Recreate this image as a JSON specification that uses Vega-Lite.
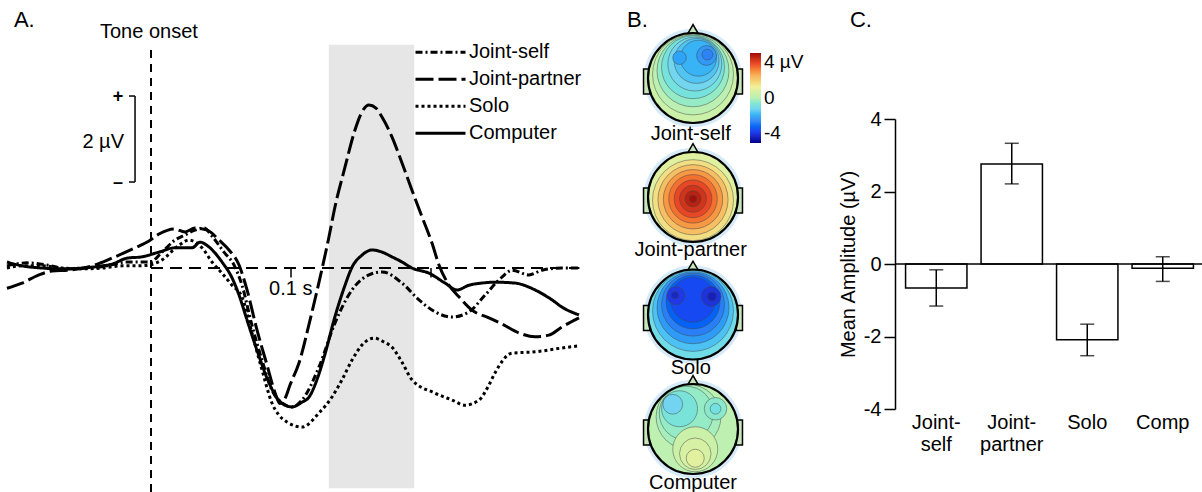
{
  "$schema": "https://vega.github.io/schema/vega-lite/v6.json",
  "padding": 0,
  "background": "white",
  "bounds": "flush",
  "spacing": 40,
  "config": {
    "font": "Liberation Sans",
    "view": {"stroke": null},
    "text": {"color": "black", "fontSize": 20},
    "axis": {"labelColor": "black", "titleColor": "black", "domainColor": "black", "tickColor": "black", "grid": false, "labelFont": "Liberation Sans", "titleFont": "Liberation Sans"},
    "legend": {"labelColor": "black", "labelFont": "Liberation Sans"}
  },
  "datasets": {
    "erp": [
      {"c":"Joint-partner","t":-102.9,"v":-0.47},{"c":"Joint-partner","t":-92.1,"v":-0.35},{"c":"Joint-partner","t":-80,"v":-0.16},{"c":"Joint-partner","t":-70.7,"v":-0.07},{"c":"Joint-partner","t":-58.6,"v":-0.05},{"c":"Joint-partner","t":-42.1,"v":0.05},{"c":"Joint-partner","t":-27.9,"v":0.23},{"c":"Joint-partner","t":-11.4,"v":0.47},{"c":"Joint-partner","t":-1.4,"v":0.63},{"c":"Joint-partner","t":5.7,"v":0.79},{"c":"Joint-partner","t":16.4,"v":0.91},{"c":"Joint-partner","t":24.3,"v":0.84},{"c":"Joint-partner","t":31.4,"v":0.93},{"c":"Joint-partner","t":36.4,"v":0.91},{"c":"Joint-partner","t":41.4,"v":0.86},{"c":"Joint-partner","t":48.6,"v":0.65},{"c":"Joint-partner","t":55.7,"v":0.42},{"c":"Joint-partner","t":62.9,"v":0.07},{"c":"Joint-partner","t":68.6,"v":-0.51},{"c":"Joint-partner","t":75.7,"v":-1.44},{"c":"Joint-partner","t":82.9,"v":-2.26},{"c":"Joint-partner","t":88.6,"v":-2.9},{"c":"Joint-partner","t":92,"v":-3.15},{"c":"Joint-partner","t":95.5,"v":-3.05},{"c":"Joint-partner","t":99.3,"v":-2.72},{"c":"Joint-partner","t":105.7,"v":-2.21},{"c":"Joint-partner","t":113.6,"v":-1.21},{"c":"Joint-partner","t":120.7,"v":-0.23},{"c":"Joint-partner","t":127.1,"v":0.72},{"c":"Joint-partner","t":131.4,"v":1.42},{"c":"Joint-partner","t":138.6,"v":2.35},{"c":"Joint-partner","t":145.7,"v":3.21},{"c":"Joint-partner","t":150.7,"v":3.63},{"c":"Joint-partner","t":155.7,"v":3.79},{"c":"Joint-partner","t":160.7,"v":3.72},{"c":"Joint-partner","t":165,"v":3.51},{"c":"Joint-partner","t":172.1,"v":3.05},{"c":"Joint-partner","t":179.3,"v":2.44},{"c":"Joint-partner","t":186.4,"v":1.81},{"c":"Joint-partner","t":193.6,"v":1.19},{"c":"Joint-partner","t":200.7,"v":0.58},{"c":"Joint-partner","t":205.7,"v":0.07},{"c":"Joint-partner","t":212.9,"v":-0.4},{"c":"Joint-partner","t":220,"v":-0.67},{"c":"Joint-partner","t":229.3,"v":-0.98},{"c":"Joint-partner","t":241.4,"v":-1.16},{"c":"Joint-partner","t":250.7,"v":-1.3},{"c":"Joint-partner","t":262.9,"v":-1.51},{"c":"Joint-partner","t":274.3,"v":-1.6},{"c":"Joint-partner","t":284.3,"v":-1.56},{"c":"Joint-partner","t":293.6,"v":-1.37},{"c":"Joint-partner","t":305.7,"v":-1.16},
      {"c":"Joint-self","t":-102.9,"v":0.05},{"c":"Joint-self","t":-88.6,"v":0.12},{"c":"Joint-self","t":-74.3,"v":0.07},{"c":"Joint-self","t":-60,"v":-0.02},{"c":"Joint-self","t":-45.7,"v":0},{"c":"Joint-self","t":-31.4,"v":0.05},{"c":"Joint-self","t":-17.1,"v":0.14},{"c":"Joint-self","t":-6.4,"v":0.14},{"c":"Joint-self","t":-0.7,"v":0.14},{"c":"Joint-self","t":7.9,"v":0.37},{"c":"Joint-self","t":17.1,"v":0.65},{"c":"Joint-self","t":24.3,"v":0.77},{"c":"Joint-self","t":31.4,"v":0.88},{"c":"Joint-self","t":37.9,"v":0.93},{"c":"Joint-self","t":43.6,"v":0.74},{"c":"Joint-self","t":52.1,"v":0.37},{"c":"Joint-self","t":59.3,"v":0.07},{"c":"Joint-self","t":65,"v":-0.4},{"c":"Joint-self","t":72.1,"v":-1.33},{"c":"Joint-self","t":79.3,"v":-2.14},{"c":"Joint-self","t":86.4,"v":-2.84},{"c":"Joint-self","t":93.6,"v":-3.14},{"c":"Joint-self","t":100.7,"v":-3.23},{"c":"Joint-self","t":107.9,"v":-3.07},{"c":"Joint-self","t":120,"v":-2.3},{"c":"Joint-self","t":131.4,"v":-1.28},{"c":"Joint-self","t":143.6,"v":-0.51},{"c":"Joint-self","t":155.7,"v":-0.16},{"c":"Joint-self","t":165,"v":-0.09},{"c":"Joint-self","t":179.3,"v":-0.35},{"c":"Joint-self","t":191.4,"v":-0.74},{"c":"Joint-self","t":202.9,"v":-1.02},{"c":"Joint-self","t":215,"v":-1.14},{"c":"Joint-self","t":227.1,"v":-1.02},{"c":"Joint-self","t":238.6,"v":-0.63},{"c":"Joint-self","t":250.7,"v":-0.21},{"c":"Joint-self","t":257.9,"v":-0.05},{"c":"Joint-self","t":270,"v":-0.16},{"c":"Joint-self","t":279.3,"v":-0.05},{"c":"Joint-self","t":293.6,"v":0},{"c":"Joint-self","t":305.7,"v":0},
      {"c":"Computer","t":-102.9,"v":0.14},{"c":"Computer","t":-92.1,"v":0.05},{"c":"Computer","t":-77.9,"v":0},{"c":"Computer","t":-63.6,"v":-0.02},{"c":"Computer","t":-49.3,"v":0},{"c":"Computer","t":-35,"v":0.05},{"c":"Computer","t":-27.9,"v":0.09},{"c":"Computer","t":-17.1,"v":0.23},{"c":"Computer","t":-6.4,"v":0.26},{"c":"Computer","t":5.7,"v":0.37},{"c":"Computer","t":17.1,"v":0.47},{"c":"Computer","t":29.3,"v":0.47},{"c":"Computer","t":35,"v":0.6},{"c":"Computer","t":41.4,"v":0.49},{"c":"Computer","t":50.7,"v":0.14},{"c":"Computer","t":57.9,"v":-0.23},{"c":"Computer","t":62.9,"v":-0.63},{"c":"Computer","t":68.6,"v":-1.21},{"c":"Computer","t":75.7,"v":-1.91},{"c":"Computer","t":82.9,"v":-2.56},{"c":"Computer","t":90,"v":-3.02},{"c":"Computer","t":95.7,"v":-3.19},{"c":"Computer","t":100.7,"v":-3.23},{"c":"Computer","t":107.9,"v":-3.12},{"c":"Computer","t":112.9,"v":-3.0},{"c":"Computer","t":120,"v":-2.46},{"c":"Computer","t":124.3,"v":-2.0},{"c":"Computer","t":131.4,"v":-1.13},{"c":"Computer","t":138.6,"v":-0.4},{"c":"Computer","t":143.6,"v":0.02},{"c":"Computer","t":150.7,"v":0.3},{"c":"Computer","t":157.9,"v":0.42},{"c":"Computer","t":165,"v":0.37},{"c":"Computer","t":172.1,"v":0.26},{"c":"Computer","t":179.3,"v":0.14},{"c":"Computer","t":186.4,"v":0},{"c":"Computer","t":198.6,"v":-0.12},{"c":"Computer","t":210,"v":-0.35},{"c":"Computer","t":218.6,"v":-0.51},{"c":"Computer","t":227.1,"v":-0.4},{"c":"Computer","t":236.4,"v":-0.35},{"c":"Computer","t":245.7,"v":-0.33},{"c":"Computer","t":260,"v":-0.35},{"c":"Computer","t":274.3,"v":-0.51},{"c":"Computer","t":286.4,"v":-0.74},{"c":"Computer","t":293.6,"v":-0.91},{"c":"Computer","t":305.7,"v":-1.09},
      {"c":"Solo","t":-102.9,"v":0},{"c":"Solo","t":-92.1,"v":0.05},{"c":"Solo","t":-77.9,"v":0.05},{"c":"Solo","t":-63.6,"v":0},{"c":"Solo","t":-49.3,"v":-0.02},{"c":"Solo","t":-35,"v":0},{"c":"Solo","t":-20.7,"v":0.05},{"c":"Solo","t":-10,"v":0.05},{"c":"Solo","t":-1.4,"v":0.07},{"c":"Solo","t":7.9,"v":0.19},{"c":"Solo","t":20,"v":0.53},{"c":"Solo","t":27.1,"v":0.65},{"c":"Solo","t":36.4,"v":0.47},{"c":"Solo","t":43.6,"v":0.14},{"c":"Solo","t":50.7,"v":-0.12},{"c":"Solo","t":57.9,"v":-0.4},{"c":"Solo","t":65,"v":-0.67},{"c":"Solo","t":72.1,"v":-1.51},{"c":"Solo","t":79.3,"v":-2.37},{"c":"Solo","t":86.4,"v":-3.14},{"c":"Solo","t":91.4,"v":-3.42},{"c":"Solo","t":97.1,"v":-3.58},{"c":"Solo","t":107.9,"v":-3.7},{"c":"Solo","t":120,"v":-3.37},{"c":"Solo","t":129.3,"v":-3.0},{"c":"Solo","t":136.4,"v":-2.6},{"c":"Solo","t":143.6,"v":-2.14},{"c":"Solo","t":150.7,"v":-1.79},{"c":"Solo","t":159.3,"v":-1.63},{"c":"Solo","t":166.4,"v":-1.72},{"c":"Solo","t":172.1,"v":-1.84},{"c":"Solo","t":179.3,"v":-2.19},{"c":"Solo","t":186.4,"v":-2.6},{"c":"Solo","t":202.9,"v":-2.91},{"c":"Solo","t":215,"v":-3.07},{"c":"Solo","t":224.3,"v":-3.19},{"c":"Solo","t":234.3,"v":-3.07},{"c":"Solo","t":241.4,"v":-2.72},{"c":"Solo","t":245.7,"v":-2.44},{"c":"Solo","t":257.9,"v":-1.98},{"c":"Solo","t":274.3,"v":-1.95},{"c":"Solo","t":293.6,"v":-1.86},{"c":"Solo","t":305.7,"v":-1.81}
    ],
    "heads": [
      {"h":"Joint-self","x":0,"y":1.733},{"h":"Joint-partner","x":0,"y":4.378},{"h":"Solo","x":0,"y":6.989},{"h":"Computer","x":0,"y":9.533}
    ],
    "ears": [
      {"h":"Joint-self","x":-1.03,"y":1.813},{"h":"Joint-self","x":1.03,"y":1.813},
      {"h":"Joint-partner","x":-1.03,"y":4.458},{"h":"Joint-partner","x":1.03,"y":4.458},
      {"h":"Solo","x":-1.03,"y":7.069},{"h":"Solo","x":1.03,"y":7.069},
      {"h":"Computer","x":-1.03,"y":9.613},{"h":"Computer","x":1.03,"y":9.613}
    ],
    "noses": [
      {"h":"Joint-self","x":0,"y":0.683},{"h":"Joint-partner","x":0,"y":3.328},{"h":"Solo","x":0,"y":5.939},{"h":"Computer","x":0,"y":8.483}
    ],
    "topo": [
      {"h":"Joint-self","x":0,"y":1.733,"r":1,"v":0.35},
      {"h":"Joint-self","x":0,"y":1.653,"r":0.9,"v":0.05},
      {"h":"Joint-self","x":0,"y":1.573,"r":0.8,"v":-0.3},
      {"h":"Joint-self","x":0,"y":1.493,"r":0.7,"v":-0.65},
      {"h":"Joint-self","x":0.04,"y":1.423,"r":0.6,"v":-0.95},
      {"h":"Joint-self","x":0.08,"y":1.353,"r":0.5,"v":-1.25},
      {"h":"Joint-self","x":0.12,"y":1.293,"r":0.4,"v":-1.5},
      {"h":"Joint-self","x":0.3,"y":1.233,"r":0.22,"v":-1.85},
      {"h":"Joint-self","x":0.32,"y":1.213,"r":0.12,"v":-2.15},
      {"h":"Joint-self","x":-0.3,"y":1.283,"r":0.15,"v":-1.7},
      {"h":"Joint-partner","x":0,"y":4.378,"r":1,"v":0.7},
      {"h":"Joint-partner","x":0,"y":4.448,"r":0.9,"v":1.3},
      {"h":"Joint-partner","x":0,"y":4.438,"r":0.78,"v":1.8},
      {"h":"Joint-partner","x":0,"y":4.428,"r":0.66,"v":2.3},
      {"h":"Joint-partner","x":0,"y":4.418,"r":0.54,"v":2.7},
      {"h":"Joint-partner","x":0,"y":4.418,"r":0.42,"v":3.1},
      {"h":"Joint-partner","x":0,"y":4.418,"r":0.3,"v":3.4},
      {"h":"Joint-partner","x":0,"y":4.418,"r":0.18,"v":3.7},
      {"h":"Joint-partner","x":0,"y":4.418,"r":0.08,"v":3.95},
      {"h":"Solo","x":0,"y":6.989,"r":1,"v":-0.8},
      {"h":"Solo","x":0,"y":6.909,"r":0.9,"v":-1.3},
      {"h":"Solo","x":0,"y":6.839,"r":0.8,"v":-1.8},
      {"h":"Solo","x":0,"y":6.769,"r":0.7,"v":-2.2},
      {"h":"Solo","x":0,"y":6.709,"r":0.6,"v":-2.6},
      {"h":"Solo","x":0,"y":6.659,"r":0.5,"v":-2.9},
      {"h":"Solo","x":0.4,"y":6.589,"r":0.22,"v":-3.2},
      {"h":"Solo","x":-0.38,"y":6.569,"r":0.2,"v":-3.1},
      {"h":"Solo","x":0.42,"y":6.589,"r":0.1,"v":-3.5},
      {"h":"Solo","x":-0.4,"y":6.559,"r":0.08,"v":-3.4},
      {"h":"Computer","x":0,"y":9.533,"r":1,"v":0.1},
      {"h":"Computer","x":-0.1,"y":9.263,"r":0.72,"v":-0.15},
      {"h":"Computer","x":-0.15,"y":9.183,"r":0.6,"v":-0.3},
      {"h":"Computer","x":-0.3,"y":9.083,"r":0.4,"v":-0.6},
      {"h":"Computer","x":-0.45,"y":8.983,"r":0.22,"v":-1.0},
      {"h":"Computer","x":0.5,"y":9.083,"r":0.25,"v":-0.4},
      {"h":"Computer","x":0.5,"y":9.083,"r":0.12,"v":-0.7},
      {"h":"Computer","x":0.05,"y":9.983,"r":0.5,"v":0.35},
      {"h":"Computer","x":0.05,"y":10.083,"r":0.35,"v":0.55},
      {"h":"Computer","x":0.05,"y":10.183,"r":0.2,"v":0.75}
    ],
    "amp": [
      {"c":"Joint-self","mean":-0.66,"lo":-1.16,"hi":-0.16},
      {"c":"Joint-partner","mean":2.76,"lo":2.21,"hi":3.33},
      {"c":"Solo","mean":-2.09,"lo":-2.53,"hi":-1.66},
      {"c":"Comp","mean":-0.12,"lo":-0.48,"hi":0.2}
    ]
  },
  "hconcat": [
    {
      "width": 580,
      "height": 492,
      "layer": [
        {
          "data": {"values": [{"t1": 127, "t2": 188, "v1": -5.12, "v2": 5.19}]},
          "mark": {"type": "rect", "color": "#e6e6e6"},
          "encoding": {
            "x": {"field": "t1", "type": "quantitative", "scale": {"domain": [-106.43, 307.86], "nice": false, "zero": false}, "axis": null},
            "x2": {"field": "t2"},
            "y": {"field": "v1", "type": "quantitative", "scale": {"domain": [-5.209, 6.233], "nice": false, "zero": false}, "axis": null},
            "y2": {"field": "v2"}
          }
        },
        {
          "data": {"values": [{"t": 0, "v1": -5.21, "v2": 5.13}]},
          "mark": {"type": "rule", "color": "black", "strokeWidth": 2, "strokeDash": [8, 6]},
          "encoding": {
            "x": {"field": "t", "type": "quantitative"},
            "y": {"field": "v1", "type": "quantitative"},
            "y2": {"field": "v2"}
          }
        },
        {
          "data": {"values": [{"t1": 0, "t2": 306, "v": 0}]},
          "mark": {"type": "rule", "color": "black", "strokeWidth": 2, "strokeDash": [12, 7]},
          "encoding": {
            "x": {"field": "t1", "type": "quantitative"},
            "x2": {"field": "t2"},
            "y": {"field": "v", "type": "quantitative"}
          }
        },
        {
          "data": {"values": [{"t": 100, "v1": 0, "v2": -0.22}, {"t": 200, "v1": 0, "v2": -0.22}]},
          "mark": {"type": "rule", "color": "black", "strokeWidth": 1.5},
          "encoding": {
            "x": {"field": "t", "type": "quantitative"},
            "y": {"field": "v1", "type": "quantitative"},
            "y2": {"field": "v2"}
          }
        },
        {
          "data": {"values": [{"t": -11.4, "v1": 2, "v2": 4}]},
          "mark": {"type": "rule", "color": "black", "strokeWidth": 1.5},
          "encoding": {
            "x": {"field": "t", "type": "quantitative"},
            "y": {"field": "v1", "type": "quantitative"},
            "y2": {"field": "v2"}
          }
        },
        {
          "data": {"values": [{"t1": -15.7, "t2": -11.4, "v": 4}, {"t1": -15.7, "t2": -11.4, "v": 2}]},
          "mark": {"type": "rule", "color": "black", "strokeWidth": 1.5},
          "encoding": {
            "x": {"field": "t1", "type": "quantitative"},
            "x2": {"field": "t2"},
            "y": {"field": "v", "type": "quantitative"}
          }
        },
        {
          "data": {"name": "erp"},
          "mark": {"type": "line", "color": "black", "strokeWidth": 3, "interpolate": "monotone"},
          "encoding": {
            "x": {"field": "t", "type": "quantitative"},
            "y": {"field": "v", "type": "quantitative"},
            "strokeDash": {
              "field": "c", "type": "nominal",
              "scale": {"domain": ["Joint-self", "Joint-partner", "Solo", "Computer"], "range": [[7, 3, 2, 3], [18, 5], [3, 3], [1, 0]]},
              "legend": {
                "orient": "none", "legendX": 427, "legendY": 40.7, "title": null, "padding": 0,
                "symbolType": "M-2.5,0L2.5,0", "symbolSize": 400, "symbolStrokeWidth": 3,
                "symbolStrokeColor": "black", "symbolFillColor": "transparent",
                "labelFontSize": 20, "labelOffset": 17, "rowPadding": 5, "labelColor": "black"
              }
            }
          }
        },
        {
          "data": {"values": [{"label": "A.", "t": -97.9, "v": 5.76}]},
          "mark": {"type": "text", "align": "left", "baseline": "middle", "fontSize": 22},
          "encoding": {
            "x": {"field": "t", "type": "quantitative"},
            "y": {"field": "v", "type": "quantitative"},
            "text": {"field": "label"}
          }
        },
        {
          "data": {"values": [{"label": "0.1 s", "t": 84.3, "v": -0.49}]},
          "mark": {"type": "text", "align": "left", "baseline": "middle", "fontSize": 20},
          "encoding": {
            "x": {"field": "t", "type": "quantitative"},
            "y": {"field": "v", "type": "quantitative"},
            "text": {"field": "label"}
          }
        },
        {
          "data": {"values": [{"label": "Tone onset", "t": -1.5, "v": 5.49}]},
          "mark": {"type": "text", "align": "center", "baseline": "middle", "fontSize": 20},
          "encoding": {
            "x": {"field": "t", "type": "quantitative"},
            "y": {"field": "v", "type": "quantitative"},
            "text": {"field": "label"}
          }
        },
        {
          "data": {"values": [{"label": "+", "t": -23.6, "v": 3.98}, {"label": "–", "t": -23.6, "v": 1.98}]},
          "mark": {"type": "text", "align": "center", "baseline": "middle", "fontSize": 18, "fontWeight": "bold"},
          "encoding": {
            "x": {"field": "t", "type": "quantitative"},
            "y": {"field": "v", "type": "quantitative"},
            "text": {"field": "label"}
          }
        },
        {
          "data": {"values": [{"label": "2 µV", "t": -19.3, "v": 2.92}]},
          "mark": {"type": "text", "align": "right", "baseline": "middle", "fontSize": 20},
          "encoding": {
            "x": {"field": "t", "type": "quantitative"},
            "y": {"field": "v", "type": "quantitative"},
            "text": {"field": "label"}
          }
        }
      ]
    },
    {
      "width": 233,
      "height": 492,
      "layer": [
        {
          "data": {"name": "heads"},
          "mark": {"type": "point", "shape": "circle", "filled": true, "opacity": 1, "color": "#d6ebf7", "size": 9700},
          "encoding": {
            "x": {"field": "x", "type": "quantitative", "scale": {"domain": [-1.578, 3.6], "nice": false, "zero": false}, "axis": null},
            "y": {"field": "y", "type": "quantitative", "scale": {"domain": [0, 10.933], "nice": false, "zero": false, "reverse": true}, "axis": null}
          }
        },
        {
          "data": {"name": "ears"},
          "mark": {"type": "point", "shape": "M-0.25,-1L0.25,-1L0.25,1L-0.25,1Z", "filled": true, "opacity": 1, "fill": "#c8e6bc", "stroke": "black", "strokeWidth": 1.5, "size": 625},
          "encoding": {
            "x": {"field": "x", "type": "quantitative"},
            "y": {"field": "y", "type": "quantitative"}
          }
        },
        {
          "data": {"name": "noses"},
          "mark": {"type": "point", "shape": "triangle-up", "filled": true, "opacity": 1, "fill": "#c8e6bc", "stroke": "black", "strokeWidth": 1.5, "size": 200},
          "encoding": {
            "x": {"field": "x", "type": "quantitative"},
            "y": {"field": "y", "type": "quantitative"}
          }
        },
        {
          "data": {"name": "topo"},
          "mark": {"type": "point", "shape": "circle", "filled": true, "opacity": 1, "stroke": "#444444", "strokeWidth": 0.6, "strokeOpacity": 0.8},
          "encoding": {
            "x": {"field": "x", "type": "quantitative"},
            "y": {"field": "y", "type": "quantitative"},
            "size": {"field": "r", "type": "quantitative", "scale": {"type": "pow", "exponent": 2, "domain": [0, 1], "range": [0, 8100]}, "legend": null},
            "color": {
              "field": "v", "type": "quantitative",
              "scale": {"domain": [-4, -3, -2, -1, 0, 1, 2, 3, 4], "range": ["#00008b", "#1f3ff0", "#3c8cf5", "#72d4f0", "#b9f0b4", "#f2f09a", "#f9b25a", "#f04c28", "#a10a0a"]},
              "legend": {
                "orient": "none", "legendX": 748, "legendY": 53, "title": null, "direction": "vertical",
                "gradientLength": 90, "gradientThickness": 11, "gradientStrokeWidth": 0,
                "values": [-4, 0, 4],
                "labelExpr": "datum.value == 4 ? '4 µV' : datum.value == 0 ? '0' : '-4'",
                "labelFontSize": 19, "labelOffset": 3, "labelColor": "black", "padding": 0
              }
            }
          }
        },
        {
          "data": {"name": "heads"},
          "mark": {"type": "point", "shape": "circle", "filled": false, "opacity": 1, "stroke": "black", "strokeWidth": 2.2, "size": 8100},
          "encoding": {
            "x": {"field": "x", "type": "quantitative"},
            "y": {"field": "y", "type": "quantitative"}
          }
        },
        {
          "data": {"values": [{"label": "Joint-self", "x": -0.05, "y": 2.98}, {"label": "Joint-partner", "x": -0.05, "y": 5.56}, {"label": "Solo", "x": -0.05, "y": 8.18}, {"label": "Computer", "x": 0.0, "y": 10.73}]},
          "mark": {"type": "text", "align": "center", "baseline": "middle", "fontSize": 20},
          "encoding": {
            "x": {"field": "x", "type": "quantitative"},
            "y": {"field": "y", "type": "quantitative"},
            "text": {"field": "label"}
          }
        },
        {
          "data": {"values": [{"label": "B.", "x": -1.467, "y": 0.444}]},
          "mark": {"type": "text", "align": "left", "baseline": "middle", "fontSize": 22},
          "encoding": {
            "x": {"field": "x", "type": "quantitative"},
            "y": {"field": "y", "type": "quantitative"},
            "text": {"field": "label"}
          }
        }
      ]
    },
    {
      "vconcat": [
        {
          "width": 309,
          "height": 118.3,
          "data": {"values": [{"label": "C.", "x": -0.146, "y": 0.831}]},
          "mark": {"type": "text", "align": "left", "baseline": "middle", "fontSize": 22},
          "encoding": {
            "x": {"field": "x", "type": "quantitative", "scale": {"domain": [0, 1], "nice": false}, "axis": null},
            "y": {"field": "y", "type": "quantitative", "scale": {"domain": [0, 1], "nice": false}, "axis": null},
            "text": {"field": "label"}
          }
        },
        {
          "width": 309,
          "height": 290,
          "data": {"name": "amp"},
          "encoding": {
            "x": {
              "field": "c", "type": "nominal",
              "scale": {"type": "band", "domain": ["Joint-self", "Joint-partner", "Solo", "Comp"], "paddingInner": 0.187, "paddingOuter": 0.14},
              "axis": {"orient": "bottom", "domain": false, "ticks": false, "labelAngle": 0, "labelFontSize": 20, "labelPadding": 3, "labelLineHeight": 22, "title": null,
                       "labelExpr": "datum.label == 'Joint-self' ? ['Joint-', 'self'] : datum.label == 'Joint-partner' ? ['Joint-', 'partner'] : datum.label"}
            }
          },
          "layer": [
            {
              "mark": {"type": "bar", "fill": "white", "stroke": "black", "strokeWidth": 1.5},
              "encoding": {
                "y": {
                  "field": "mean", "type": "quantitative",
                  "scale": {"domain": [-4, 4], "nice": false},
                  "axis": {"values": [-4, -2, 0, 2, 4], "labelExpr": "'' + datum.value", "tickSize": 11, "tickWidth": 1.5, "domainWidth": 1.5, "labelFontSize": 20, "labelPadding": 3, "title": "Mean Amplitude (µV)", "titleFontSize": 20, "titleFontWeight": "normal", "titlePadding": 5}
                }
              }
            },
            {
              "mark": {"type": "rule", "color": "black", "strokeWidth": 1.5},
              "encoding": {"y": {"field": "lo", "type": "quantitative"}, "y2": {"field": "hi"}}
            },
            {
              "mark": {"type": "tick", "color": "black", "size": 14, "thickness": 1.5},
              "encoding": {"y": {"field": "lo", "type": "quantitative"}}
            },
            {
              "mark": {"type": "tick", "color": "black", "size": 14, "thickness": 1.5},
              "encoding": {"y": {"field": "hi", "type": "quantitative"}}
            },
            {
              "data": {"values": [{"z": 0}]},
              "mark": {"type": "rule", "color": "black", "strokeWidth": 1.5},
              "encoding": {"x": null, "y": {"field": "z", "type": "quantitative"}}
            }
          ]
        }
      ],
      "spacing": 0,
      "bounds": "flush"
    }
  ]
}
